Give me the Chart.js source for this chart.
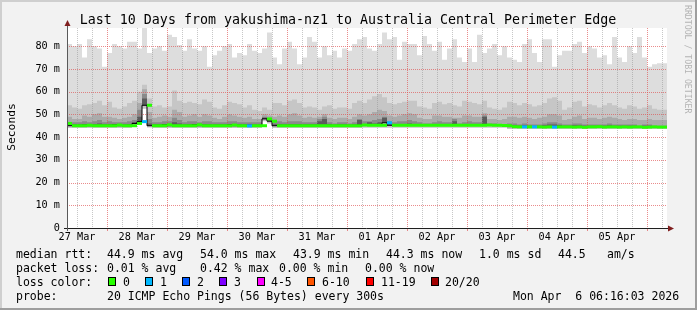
<!DOCTYPE html>
<html>
<head>
<meta charset="utf-8">
<script src="https://cdn.jsdelivr.net/npm/chart.js@4/dist/chart.umd.min.js"></script>
<style>
    html, body { margin: 0; padding: 0; background: #f2f2f2; }
    canvas { display: block; }
</style>
</head>
<body>
<canvas id="smokeChart" width="697" height="310"></canvas>
<script>
// time axis: 120 slots of 2 hours, starting 27 Mar 08:00
const hoursPerSlot = 2;
const spanHours = 240;
const firstNoonHour = 4;
const firstMidnightHour = 16;
const dayLabels = ["27 Mar", "28 Mar", "29 Mar", "30 Mar", "31 Mar", "01 Apr", "02 Apr", "03 Apr", "04 Apr", "05 Apr"];
const yTicks = [0, 5, 10, 15, 20, 25, 30, 35, 40, 45, 50, 55, 60, 65, 70, 75, 80, 85];
const yTickLabels = { 0: "0", 10: "10 m", 20: "20 m", 30: "30 m", 40: "40 m", 50: "50 m", 60: "60 m", 70: "70 m", 80: "80 m" };

// smoke, in ms: slowest ping down to the core band around the median
const maxPing = [
    78, 81, 80, 81, 75, 83, 80, 79, 71, 77, 81, 80, 79, 82, 82, 79, 88, 77, 79, 80,
    78, 85, 84, 80.5, 78, 83, 79, 78, 80, 71, 76, 78, 80, 81, 75, 77, 76, 81, 78, 77,
    79, 86, 75, 72, 79, 82, 79, 72, 75, 84, 82, 75, 80, 76, 78, 75, 79, 78, 81, 83,
    84, 79, 78, 81, 86, 83, 84, 74, 82, 81, 81, 76, 84.5, 81, 78, 82, 74, 79, 83, 75,
    73, 79, 73, 85, 77, 79, 81, 76, 80, 75, 74, 73, 81, 83, 77, 73, 83, 83, 71, 76,
    78, 78, 81, 82, 77, 80, 79, 75, 76, 72, 84, 75, 73, 80, 77, 84, 75, 71, 72, 72.5
];
const smokeOuter = [
    53.5, 54, 53, 52.5, 54, 54.5, 55, 56, 54, 55.5, 53, 52.5, 53.5, 55, 56, 60, 63, 57, 53.5, 54,
    53, 53.5, 60.5, 56, 55, 55.5, 55, 54.5, 56.5, 55.5, 53, 52.5, 54, 55.5, 55, 54.5, 53, 54, 52, 51.5,
    53, 52, 55, 55, 54, 56, 56.5, 55, 53, 53.5, 53, 52, 53.5, 54, 52.5, 53, 53, 52.5, 55, 56,
    55, 56.5, 58, 59, 57.5, 55, 54.5, 55, 55.5, 56, 56, 53.5, 53, 52.5, 55, 55.5, 54.5, 55, 54, 53.5,
    56, 55.5, 55, 54.5, 56, 53, 52.5, 52, 53, 55.5, 55, 54, 55, 54.5, 53.5, 54, 55, 57, 57.5, 56,
    52, 53, 55.5, 56, 53.5, 54.5, 54, 53, 54, 55, 54, 53, 52.5, 54, 53.5, 52.5, 53, 54, 52.5, 52
];
const smokeMid = [
    48.5, 49, 48, 48, 49.5, 49, 50, 50.5, 49, 49, 48.5, 48, 48.5, 49, 50, 55, 61, 51, 48.5, 49,
    49.5, 49, 52, 51, 49, 49.5, 50, 49, 50, 49.5, 48.5, 48, 49, 50, 49.5, 49, 48.5, 49, 48, 48,
    50, 49.5, 49, 49.5, 49, 50, 50.5, 49.5, 48.5, 49, 48.5, 49, 50, 48.5, 48, 48.5, 48.5, 48, 49, 50,
    49.5, 50, 51, 52, 51.5, 49.5, 49, 49.5, 50, 50.5, 50, 48.5, 48, 48, 49.5, 49.5, 49, 49, 48.5, 48.5,
    49.5, 49.5, 49, 49, 50.5, 48, 48, 47.5, 48, 49, 49, 48.5, 49, 48.5, 48, 48.5, 49, 50, 50, 49.5,
    47.5, 48, 49, 49.5, 48, 48.5, 48.5, 48, 48.5, 49, 48.5, 48, 47.5, 48, 48, 47.5, 47.5, 48, 47.5, 47.5
];
const smokeInner = [
    47, 46.5, 46.5, 46.5, 47, 46.5, 47, 47.5, 46.5, 47, 46.5, 46.5, 46.5, 47, 47.5, 52, 59, 48, 46.5, 46.5,
    47, 47, 48.5, 47.5, 46.5, 47, 47, 46.5, 47, 47, 46.5, 46.5, 46.5, 47, 47, 46.5, 46.5, 46.5, 46.5, 46.5,
    49, 48, 46.5, 47, 46.5, 47, 47, 47, 46.5, 46.5, 46.5, 48, 49, 46.5, 46, 46.5, 46.5, 46, 46.5, 48,
    47, 47, 47.5, 48, 49, 47, 46.5, 47, 47, 47.5, 47, 46.5, 46, 46, 46.5, 47, 46.5, 46.5, 48, 46,
    46.5, 47, 46.5, 46.5, 49.5, 46, 46, 45.5, 45.5, 46, 46, 45.5, 46, 45.5, 45.5, 45.5, 46, 46.5, 46.5, 46,
    45.5, 45.5, 46, 46, 45.5, 45.5, 45.5, 45.5, 45.5, 46, 45.5, 45.5, 45.5, 45.5, 45.5, 45, 45.5, 45.5, 45, 45
];
const smokeCore = [
    46.5, 45.6, 45.6, 45.6, 45.8, 45.6, 45.8, 46, 45.6, 45.8, 45.8, 45.6, 45.6, 45.8, 46.5, 49, 57, 46, 45.6, 45.6,
    45.8, 45.8, 46.5, 46, 45.6, 45.8, 45.8, 45.6, 45.8, 45.6, 45.6, 45.6, 45.6, 45.8, 45.8, 45.6, 45.6, 45.6, 45.5, 45.5,
    48.5, 47.5, 45.6, 45.8, 45.6, 45.8, 45.8, 45.8, 45.6, 45.6, 45.6, 47, 48, 45.8, 45.5, 45.6, 45.6, 45.5, 45.6, 47.5,
    45.8, 46.5, 46, 46.5, 48.5, 45.8, 45.6, 45.8, 45.8, 46, 45.8, 45.6, 45.5, 45.5, 45.6, 45.8, 45.6, 45.6, 47, 45.5,
    45.6, 45.8, 45.6, 45.6, 49, 45.5, 45.5, 45.2, 45.2, 45.3, 45.2, 45, 45.2, 45, 45, 45, 45.2, 45.5, 45.5, 45.3,
    45, 45, 45.2, 45.2, 45, 45, 45, 45, 45, 45.2, 45, 45, 45, 45, 45, 44.8, 45, 45, 44.8, 44.8
];
const minPing = [
    44, 44, 44, 44, 44, 44, 44, 44, 44, 44, 44, 44, 44, 44, 45.3, 45.8, 52.5, 44.2, 44, 44,
    44, 44, 44, 44, 44, 44, 44, 44, 44, 44, 44, 44, 44, 44, 44, 44, 44, 44, 44, 44,
    47, 46, 44, 44, 44, 44, 44, 44, 44, 44, 44, 44, 44, 44, 44, 44, 44, 44, 44, 44,
    44.1, 44.1, 44.1, 44.1, 44.1, 44.1, 44.1, 44.1, 44.1, 44.1, 44.1, 44.1, 44.1, 44.1, 44.1, 44.1, 44.1, 44.1, 44.1, 44.1,
    44.1, 44.1, 44.1, 44.1, 44.1, 44.1, 44.1, 44.1, 44.1, 43.6, 43.6, 43.6, 43.6, 43.6, 43.6, 43.6, 43.6, 43.6, 43.6, 43.6,
    43.6, 43.6, 43.6, 43.6, 43.6, 43.6, 43.6, 43.6, 43.6, 43.6, 43.6, 43.6, 43.6, 43.6, 43.6, 43.6, 43.6, 43.6, 43.6, 43.6
];
const medianRtt = [
    46, 45, 45, 45, 45.2, 45, 45, 45, 45, 45, 45.3, 45, 45, 45, 46, 46.8, 54, 45, 45, 45,
    45.4, 45, 45, 45, 45, 45, 45.4, 45, 45, 45, 45, 45, 45, 45.3, 45, 45, 44.9, 45, 45, 45,
    48, 47, 45, 45, 45, 45, 45, 45, 45, 45, 45, 45, 45, 45, 45, 45, 45, 45, 45, 45.3,
    45.2, 45.2, 45.2, 45.2, 46.3, 45.2, 45.2, 45.2, 45.2, 45.2, 45.2, 45.2, 45.2, 45.2, 45.2, 45.2, 45.2, 45.2, 45.2, 45.2,
    45.2, 45.2, 45.2, 45.2, 45.3, 45.2, 45.2, 45.1, 45, 44.6, 44.5, 44.5, 44.5, 44.5, 44.5, 44.4, 44.5, 44.4, 44.5, 44.5,
    44.5, 44.4, 44.5, 44.3, 44.5, 44.5, 44.6, 44.4, 44.5, 44.5, 44.4, 44.5, 44.4, 44.5, 44.5, 44.3, 44.4, 44.5, 44.4, 44.4
];
// loss class per slot: 0 = no loss, 1 = one of 20 lost
const lossClass = [
    0, 0, 0, 0, 0, 0, 0, 0, 0, 0, 0, 0, 0, 0, 0, 1, 0, 0, 0, 0,
    0, 0, 0, 0, 0, 0, 0, 0, 0, 0, 0, 0, 0, 0, 0, 0, 1, 0, 0, 0,
    0, 0, 0, 0, 0, 0, 0, 0, 0, 0, 0, 0, 0, 0, 0, 0, 0, 0, 0, 0,
    0, 0, 0, 0, 1, 0, 0, 0, 0, 0, 0, 0, 0, 0, 0, 0, 0, 0, 0, 0,
    0, 0, 0, 0, 0, 0, 0, 0, 0, 0, 0, 1, 0, 1, 0, 0, 0, 1, 0, 0,
    0, 0, 0, 0, 0, 0, 0, 0, 0, 0, 0, 0, 0, 0, 0, 0, 0, 0, 0, 0
];

const lossLabels = ["0", "1", "2", "3", "4-5", "6-10", "11-19", "20/20"];
const lossColors = ["#26ff00", "#00b8ff", "#0059ff", "#7e00ff", "#ff00ff", "#ff5500", "#ff0000", "#a10000"];
const rttStats = ["44.9 ms avg", "54.0 ms max", "43.9 ms min", "44.3 ms now", "1.0 ms sd", "44.5", "am/s"];
const lossStats = ["0.01 % avg", "0.42 % max", "0.00 % min", "0.00 % now"];
const probeText = "20 ICMP Echo Pings (56 Bytes) every 300s";
const stampText = "Mon Apr  6 06:16:03 2026";
const titleText = "Last 10 Days from yakushima-nz1 to Australia Central Perimeter Edge";

const MONO = "'DejaVu Sans Mono', 'Liberation Mono', monospace";
const MINOR_GRID = "rgba(143, 143, 143, 0.5)";
const MAJOR_GRID = "rgba(222, 79, 79, 0.65)";
const CLEAR = "rgba(0,0,0,0)";

function stepSeries(values) {
    const points = values.map((v, i) => ({ x: i * hoursPerSlot, y: v }));
    points.push({ x: values.length * hoursPerSlot, y: values[values.length - 1] });
    return points;
}

function centerSeries(values) {
    return values.map((v, i) => ({ x: (i + 0.5) * hoursPerSlot, y: v }));
}

function areaLayer(values, color, order) {
    return {
        data: stepSeries(values),
        stepped: "after",
        borderWidth: 0,
        borderColor: CLEAR,
        backgroundColor: color,
        fill: "origin",
        pointRadius: 0,
        order: order,
    };
}

function isMidnight(hour) {
    return (hour - firstMidnightHour) % 24 === 0;
}

// dotted rrdtool grid, laid over the smoke but under the median line
function drawGrid(chart) {
    const { ctx, chartArea, scales } = chart;
    ctx.save();
    ctx.lineWidth = 1;
    ctx.setLineDash([1, 1]);
    scales.y.ticks.forEach((tick) => {
        if (tick.value === 0) {
            return;
        }
        const y = Math.round(scales.y.getPixelForValue(tick.value)) + 0.5;
        ctx.strokeStyle = tick.value % 10 === 0 ? MAJOR_GRID : MINOR_GRID;
        ctx.beginPath();
        ctx.moveTo(chartArea.left, y);
        ctx.lineTo(chartArea.right, y);
        ctx.stroke();
    });
    scales.x.ticks.forEach((tick) => {
        const x = Math.round(scales.x.getPixelForValue(tick.value)) + 0.5;
        ctx.strokeStyle = isMidnight(tick.value) ? MAJOR_GRID : MINOR_GRID;
        ctx.beginPath();
        ctx.moveTo(x, chartArea.top);
        ctx.lineTo(x, chartArea.bottom);
        ctx.stroke();
    });
    ctx.setLineDash([]);
    ctx.strokeStyle = MAJOR_GRID;
    scales.x.ticks.forEach((tick) => {
        if (!isMidnight(tick.value)) {
            return;
        }
        const x = Math.round(scales.x.getPixelForValue(tick.value)) + 0.5;
        ctx.beginPath();
        ctx.moveTo(x, chartArea.bottom + 1);
        ctx.lineTo(x, chartArea.bottom + 3);
        ctx.stroke();
    });
    ctx.restore();
}

const framePlugin = {
    id: "rrdFrame",
    beforeDraw(chart) {
        const { ctx, chartArea } = chart;
        const w = chart.width;
        const h = chart.height;
        ctx.save();
        ctx.fillStyle = "#f2f2f2";
        ctx.fillRect(0, 0, w, h);
        ctx.fillStyle = "#cfcfcf";
        ctx.fillRect(0, 0, w, 2);
        ctx.fillRect(0, 0, 2, h);
        ctx.fillStyle = "#9e9e9e";
        ctx.fillRect(0, h - 2, w, 2);
        ctx.fillRect(w - 2, 0, 2, h);
        ctx.fillStyle = "#ffffff";
        ctx.fillRect(chartArea.left, chartArea.top, chartArea.right - chartArea.left, chartArea.bottom - chartArea.top);
        ctx.restore();
    },
    afterDatasetDraw(chart, args) {
        if (chart.data.datasets[args.index].gridAbove) {
            drawGrid(chart);
        }
    },
    afterDraw(chart) {
        const { ctx, chartArea } = chart;
        const x0 = chartArea.left;
        const y0 = Math.round(chart.scales.y.getPixelForValue(0));
        ctx.save();

        // axes and arrows
        ctx.lineWidth = 1;
        ctx.strokeStyle = "#1f1f1f";
        ctx.beginPath();
        ctx.moveTo(x0 - 3, y0 + 0.5);
        ctx.lineTo(chartArea.right + 2, y0 + 0.5);
        ctx.stroke();
        ctx.strokeStyle = "#5a5a5a";
        ctx.beginPath();
        ctx.moveTo(x0 + 0.5, y0 + 3);
        ctx.lineTo(x0 + 0.5, chartArea.top - 3);
        ctx.stroke();
        ctx.fillStyle = "#801f1f";
        ctx.beginPath();
        ctx.moveTo(x0 + 0.5, chartArea.top - 8);
        ctx.lineTo(x0 - 2.5, chartArea.top - 2);
        ctx.lineTo(x0 + 3.5, chartArea.top - 2);
        ctx.closePath();
        ctx.fill();
        ctx.beginPath();
        ctx.moveTo(chartArea.right + 7, y0 + 0.5);
        ctx.lineTo(chartArea.right + 1, y0 - 2.5);
        ctx.lineTo(chartArea.right + 1, y0 + 3.5);
        ctx.closePath();
        ctx.fill();

        // title
        ctx.fillStyle = "#000000";
        ctx.font = "13.3px " + MONO;
        ctx.textAlign = "center";
        ctx.textBaseline = "alphabetic";
        ctx.fillText(titleText, 348, 24);

        // vertical axis title
        ctx.save();
        ctx.translate(15, 127);
        ctx.rotate(-Math.PI / 2);
        ctx.font = "11.3px " + MONO;
        ctx.fillText("Seconds", 0, 0);
        ctx.restore();

        // watermark
        ctx.save();
        ctx.translate(685, 5);
        ctx.rotate(Math.PI / 2);
        ctx.textAlign = "left";
        ctx.fillStyle = "#b4b4b4";
        ctx.font = "8.2px " + MONO;
        ctx.fillText("RRDTOOL / TOBI OETIKER", 0, 0);
        ctx.restore();

        // legend
        ctx.textAlign = "left";
        ctx.font = "11.5px " + MONO;
        ctx.fillStyle = "#000000";
        ctx.fillText("median rtt:", 16, 258);
        [107, 200, 293, 386, 479, 558, 607].forEach((x, i) => ctx.fillText(rttStats[i], x, 258));
        ctx.fillText("packet loss:", 16, 272);
        [107, 200, 279, 365].forEach((x, i) => ctx.fillText(lossStats[i], x, 272));
        ctx.fillText("loss color:", 16, 286);
        const boxX = [108, 145, 182, 219, 257, 307, 366, 431];
        const textX = [123, 160, 197, 234, 271, 322, 381, 445];
        lossLabels.forEach((label, i) => {
            ctx.fillStyle = lossColors[i];
            ctx.fillRect(boxX[i], 277, 8, 9);
            ctx.strokeStyle = "#000000";
            ctx.strokeRect(boxX[i] + 0.5, 277.5, 7, 8);
            ctx.fillStyle = "#000000";
            ctx.fillText(label, textX[i], 286);
        });
        ctx.fillText("probe:", 16, 300);
        ctx.fillText(probeText, 107, 300);
        ctx.fillText(stampText, 513, 300);
        ctx.restore();
    },
};

function initSmokeChart() {
    const canvas = document.getElementById("smokeChart");
    const whiteMask = areaLayer(minPing, "#ffffff", 3);
    whiteMask.gridAbove = true;
    const datasets = [
        areaLayer(maxPing, "#dddddd", 9),
        areaLayer(smokeOuter, "#c6c6c6", 8),
        areaLayer(smokeMid, "#ababab", 7),
        areaLayer(smokeInner, "#8a8a8a", 6),
        areaLayer(smokeCore, "#5c5c5c", 5),
        areaLayer(medianRtt, "#c4c4c4", 4),
        whiteMask,
        {
            data: stepSeries(medianRtt),
            stepped: "after",
            borderWidth: 1,
            borderColor: "#000000",
            fill: false,
            pointRadius: 0,
            order: 2,
        },
        {
            data: centerSeries(medianRtt),
            showLine: false,
            pointStyle: "line",
            pointRadius: 2.5,
            pointBorderWidth: 3,
            pointBorderColor: (ctx) => lossColors[lossClass[ctx.dataIndex]] || lossColors[0],
            order: 1,
        },
    ];

    new Chart(canvas, {
        type: "line",
        data: { datasets: datasets },
        options: {
            responsive: false,
            animation: false,
            events: [],
            layout: { padding: { left: 0, top: 28, right: 30, bottom: 0 } },
            plugins: {
                legend: { display: false },
                tooltip: { enabled: false },
                filler: { drawTime: "beforeDatasetDraw" },
            },
            scales: {
                x: {
                    type: "linear",
                    min: 0,
                    max: spanHours,
                    afterBuildTicks: (scale) => {
                        const ticks = [];
                        for (let h = firstNoonHour; h < spanHours; h += 6) {
                            ticks.push({ value: h });
                        }
                        scale.ticks = ticks;
                    },
                    afterFit: (scale) => {
                        scale.height = 82;
                    },
                    grid: {
                        color: CLEAR,
                        tickColor: CLEAR,
                        drawTicks: true,
                        tickLength: 3,
                    },
                    border: { display: false },
                    ticks: {
                        autoSkip: false,
                        maxRotation: 0,
                        padding: 0,
                        color: "#000000",
                        font: { family: MONO, size: 10.2 },
                        callback: (value) => {
                            const day = (value - firstNoonHour) / 24;
                            return Number.isInteger(day) ? dayLabels[day] : "";
                        },
                    },
                },
                y: {
                    min: 0,
                    max: 88,
                    afterBuildTicks: (scale) => {
                        scale.ticks = yTicks.map((v) => ({ value: v }));
                    },
                    afterFit: (scale) => {
                        scale.width = 67;
                    },
                    grid: {
                        color: CLEAR,
                        drawTicks: false,
                    },
                    border: { display: false },
                    ticks: {
                        padding: 7,
                        color: "#000000",
                        font: { family: MONO, size: 10.2 },
                        callback: (value) => yTickLabels[value] || "",
                    },
                },
            },
        },
        plugins: [framePlugin],
    });
}

document.addEventListener("DOMContentLoaded", () => {
    initSmokeChart();
});
</script>
</body>
</html>
